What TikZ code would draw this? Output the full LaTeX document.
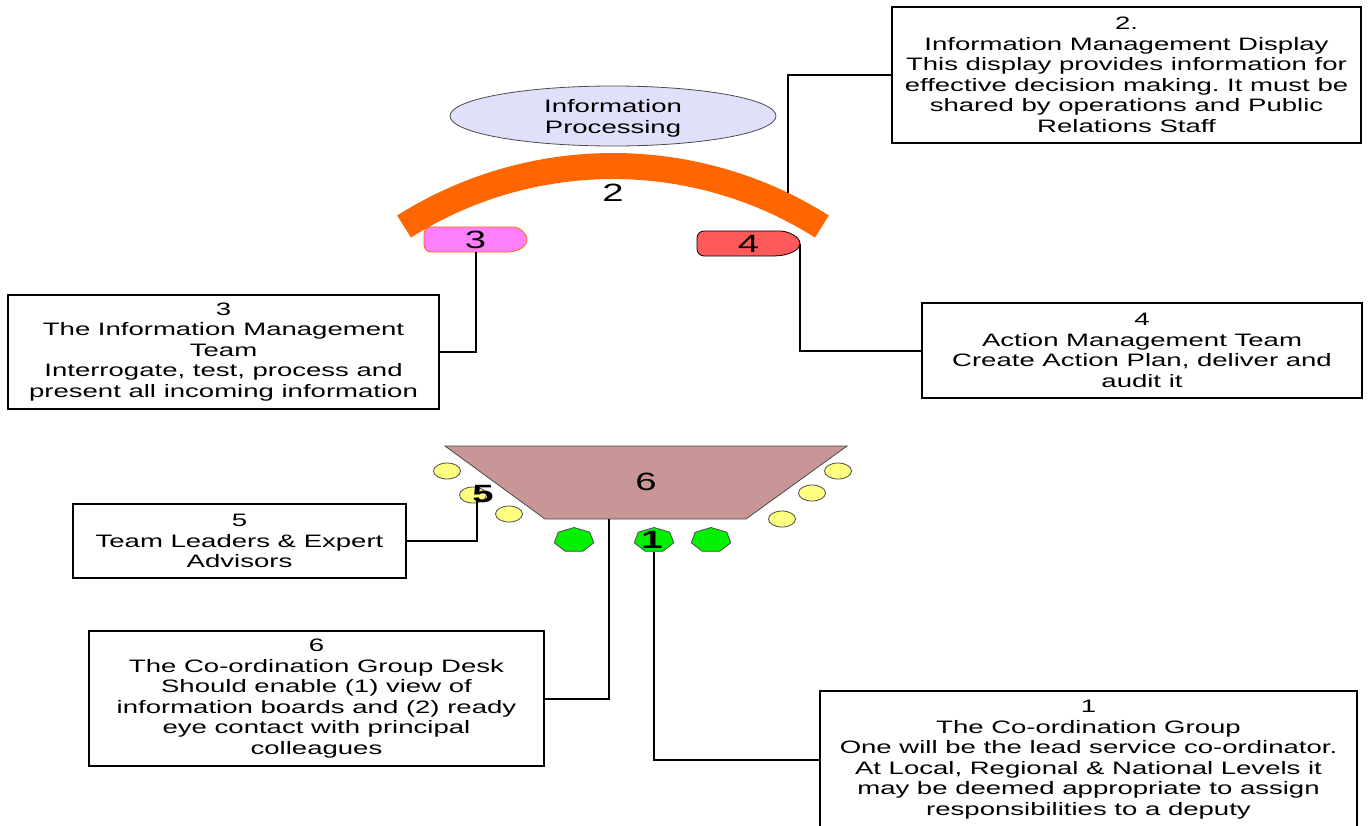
\documentclass[tikz,border=0pt]{standalone}
\usepackage{fontspec}
\setmainfont{Liberation Sans}[FakeStretch=1.53]
\usetikzlibrary{shapes.geometric}
\frenchspacing
\definecolor{arcorange}{RGB}{255,102,0}
\definecolor{lav}{RGB}{224,224,250}
\definecolor{pinkp}{RGB}{255,128,255}
\definecolor{redp}{RGB}{255,90,90}
\definecolor{trapc}{RGB}{200,150,150}
\definecolor{yelc}{RGB}{255,255,128}
\definecolor{grnc}{RGB}{0,240,0}
\begin{document}
\begin{tikzpicture}[x=1pt,y=1pt,
  box/.style={draw=black, line width=2pt, fill=white, align=center,
    font=\fontsize{18}{20.5}\selectfont, inner sep=0},
  conn/.style={line width=2pt},
  num/.style={font=\fontsize{25}{25}\selectfont, inner sep=0},
  thin/.style={line width=0.8pt},
  yel/.style={ellipse, draw=black!70, thin, fill=yelc, minimum width=27, minimum height=16, inner sep=0},
  grn/.style={regular polygon, regular polygon sides=7, draw=black!70, thin, fill=grnc, minimum size=25, inner sep=0, xscale=1.62}]
\useasboundingbox (0,0) rectangle (1368,-825);
\clip (0,0) rectangle (1368,-825);
\fill[white] (0,0) rectangle (1368,-825);

% ellipse
\node[ellipse, draw=black!70, thin, fill=lav, minimum width=326, minimum height=60,
  inner sep=0, align=center, font=\fontsize{18}{21}\selectfont] (ip) at (613,-116) {};
\node[align=center, inner sep=0, font=\fontsize{18}{21}\selectfont] (ipt) at (613,-118) {Information\\Processing};

% arc
\coordinate (ac) at (613,-557);
\draw[line width=26pt, arcorange] ([shift={(122.3:391)}]ac) arc[start angle=122.3, end angle=57.7, radius=391];
\node[num] (n2) at (613,-193) {2};
\coordinate (c2) at (788,-193);

% pill 3
\draw[fill=pinkp, draw=arcorange, thin] (507,-252) [rounded corners=7pt] -- (424,-252) -- (424,-227) -- (507,-227) [sharp corners] arc[start angle=90, end angle=-90, x radius=20, y radius=12.5] -- cycle;
\node[num, minimum width=103, minimum height=25] (p3) at (475.5,-239.5) {3};

% pill 4
\draw[fill=redp, draw=black, thin] (773,-256) [rounded corners=7pt] -- (697,-256) -- (697,-231) -- (773,-231) [sharp corners] arc[start angle=90, end angle=-90, x radius=27, y radius=12.5] -- cycle;
\node[num, minimum width=103, minimum height=25] (p4) at (748.5,-243.5) {4};

% trapezoid
\draw[fill=trapc, draw=black!70, thin] (445,-446) -- (847,-446) -- (746,-519) -- (545,-519) -- cycle;
\node[num] (t6) at (646,-482) {6};
\coordinate (c6) at (609,-519);

% yellow seats
\node[yel] (y1) at (447,-471) {};
\node[yel] (y2) at (473,-495) {};
\node[yel] (y3) at (509,-514) {};
\node[yel] (y4) at (838,-471) {};
\node[yel] (y5) at (812,-493) {};
\node[yel] (y6) at (782,-519) {};
\node[num, font=\fontsize{25}{25}\selectfont\bfseries] (l5) at (483,-494) {5};
\coordinate (c5) at (477,-501);

% green seats
\node[grn] (g1) at (574,-540) {};
\node[grn] (g2) at (654,-540) {};
\node[grn] (g3) at (711,-540) {};
\node[num, font=\fontsize{25}{25}\selectfont\bfseries] (l1) at (652,-540) {1};

% boxes
\node[box, minimum width=469, minimum height=136] (b2) at (1126.5,-75) {2.\\Information Management Display\\This display provides information for\\effective decision making. It must be\\shared by operations and Public\\Relations Staff};
\node[box, minimum width=431, minimum height=114] (b3) at (223.5,-352) {3\\The Information Management\\Team\\Interrogate, test, process and\\present all incoming information};
\node[box, minimum width=440, minimum height=95] (b4) at (1142,-350.5) {4\\Action Management Team\\Create Action Plan, deliver and\\audit it};
\node[box, minimum width=333, minimum height=74] (b5) at (239.5,-541) {5\\Team Leaders \& Expert\\Advisors};
\node[box, minimum width=455, minimum height=135] (b6) at (316.5,-698.5) {6\\The Co-ordination Group Desk\\Should enable (1) view of\\information boards and (2) ready\\eye contact with principal\\colleagues};
\node[box, minimum width=537, minimum height=137] (b1) at (1088.5,-759.5) {1\\The Co-ordination Group\\One will be the lead service co-ordinator.\\At Local, Regional \& National Levels it\\may be deemed appropriate to assign\\responsibilities to a deputy};

% connectors
\draw[conn] (c2) |- (b2.west);
\draw[conn] (p3.south) |- (b3.east);
\draw[conn] (p4.east) |- (b4.west);
\draw[conn] (c5) |- (b5.east);
\draw[conn] (c6) |- (b6.east);
\draw[conn] (g2.south) |- (b1.west);
\end{tikzpicture}
\end{document}
